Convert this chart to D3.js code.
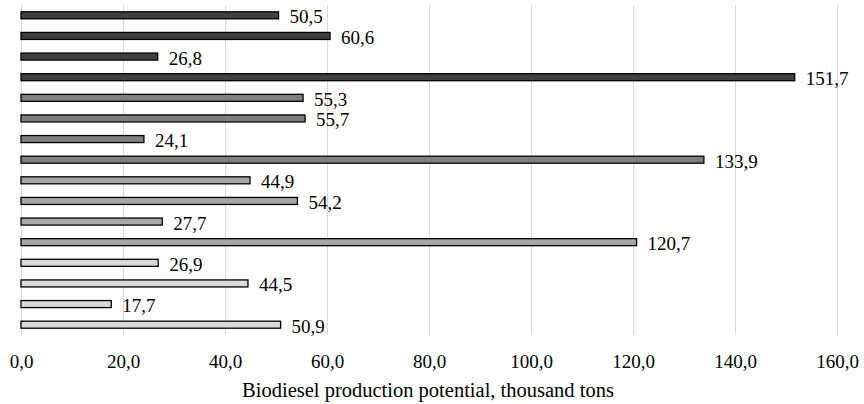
<!DOCTYPE html>
<html><head><meta charset="utf-8">
<script src="https://cdn.jsdelivr.net/npm/d3@7"></script>
<style>body{margin:0;background:#fff}svg{display:block}
svg text{font-family:"Liberation Serif","Times New Roman",serif !important;}</style>
</head><body>
<svg id="c" width="864" height="404"></svg>
<script>
const categories = ["r1","r2","r3","r4","r5","r6","r7","r8","r9","r10","r11","r12","r13","r14","r15","r16"];
const values = [50.5,60.6,26.8,151.7,55.3,55.7,24.1,133.9,44.9,54.2,27.7,120.7,26.9,44.5,17.7,50.9];
const groups = [0,0,0,0,1,1,1,1,2,2,2,2,3,3,3,3];
const groupColors = ["#404040","#7f7f7f","#a6a6a6","#d9d9d9"];
const xTicks = [0,20,40,60,80,100,120,140,160];
const xTitle = "Biodiesel production potential, thousand tons";

const svg = d3.select("#c");
const fmt = v => d3.format(".1f")(v).replace(".", ",");
const x = d3.scaleLinear().domain([0,160]).range([21,837]);
const y = d3.scaleBand().domain(categories).range([5,335]).paddingInner(0.66).paddingOuter(0.33);
const fs = 19;

svg.append("g").selectAll("line").data(xTicks).join("line")
  .attr("x1", d => Math.round(x(d))+0.5).attr("x2", d => Math.round(x(d))+0.5)
  .attr("y1", 5).attr("y2", 335).attr("stroke", "#d9d9d9").attr("stroke-width", 1);

svg.append("g").selectAll("rect").data(values).join("rect")
  .attr("x", x(0)).attr("y", (d,i) => y(categories[i]))
  .attr("width", d => x(d) - x(0)).attr("height", y.bandwidth())
  .attr("fill", (d,i) => groupColors[groups[i]])
  .attr("stroke", "#000").attr("stroke-width", 1.3);

svg.append("g").selectAll("text").data(values).join("text")
  .attr("x", d => x(d) + 11).attr("y", (d,i) => y(categories[i]) + y.bandwidth()/2 + 8)
  .attr("font-size", fs).attr("fill", "#000")
  .text(d => fmt(d));

const ax = svg.append("g").attr("transform", "translate(0,368)")
  .call(d3.axisBottom(x).tickValues(xTicks).tickSize(0).tickPadding(0).tickFormat(fmt));
ax.select(".domain").remove();
ax.attr("font-family", null).attr("font-size", null);
ax.selectAll("text").attr("font-size", fs).attr("fill", "#000").attr("dy", "0").attr("y", 0);

svg.append("text").attr("x", (x(0)+x(160))/2 - 1).attr("y", 397)
  .attr("text-anchor","middle").attr("font-size", 20.5).attr("fill","#000")
  .text(xTitle);
</script>
</body></html>
